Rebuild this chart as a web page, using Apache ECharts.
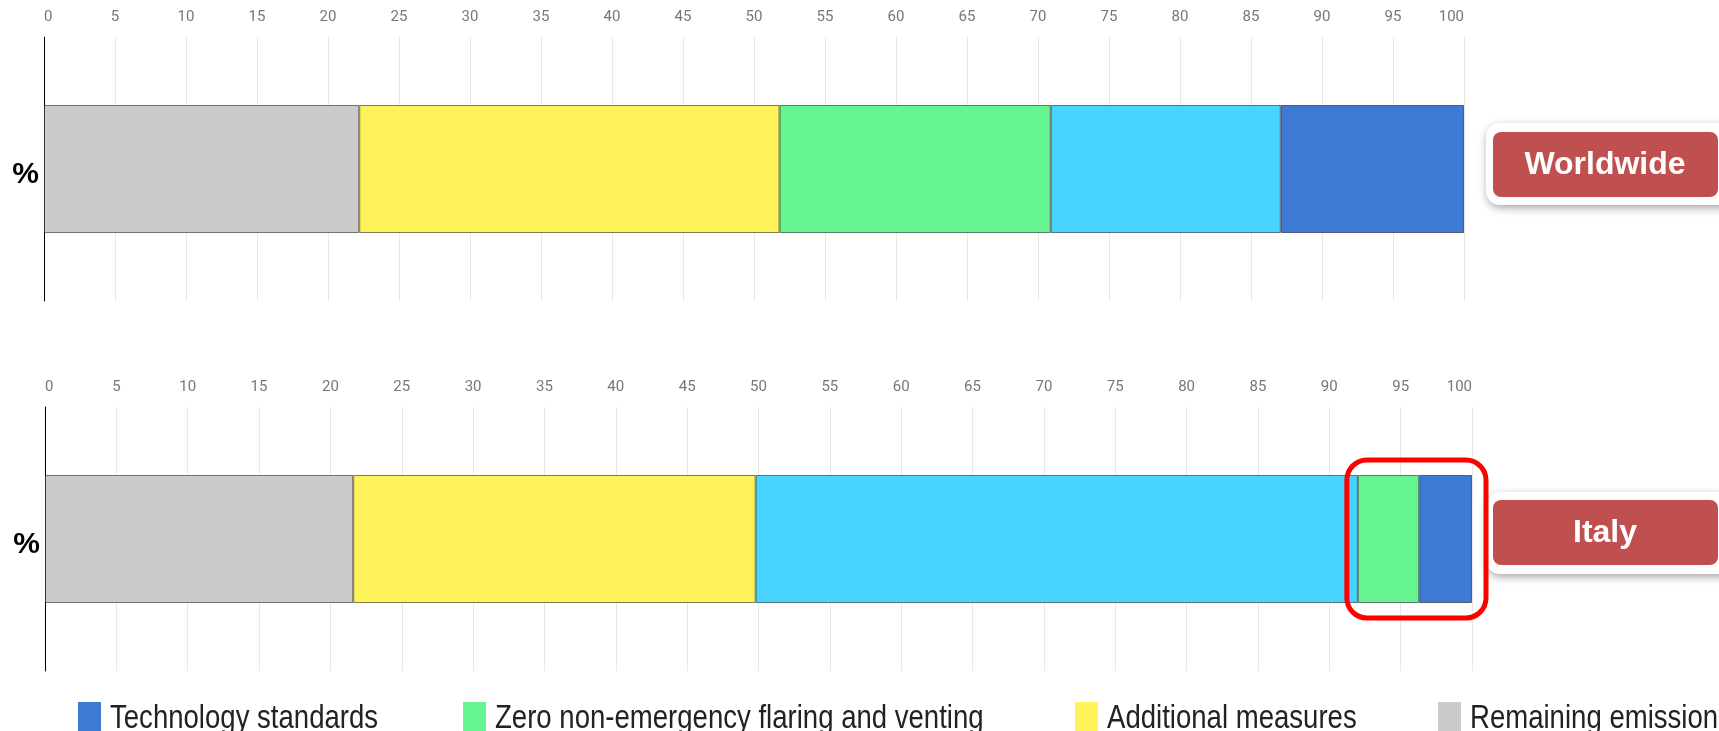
<!DOCTYPE html>
<html>
<head>
<meta charset="utf-8">
<script src="https://cdn.jsdelivr.net/npm/echarts@6/dist/echarts.min.js"></script>
<style>
html,body{margin:0;padding:0;background:#fff;}
#chart{width:1719px;height:731px;}
</style>
</head>
<body>
<div id="chart"></div>
<script>
// ---- data ----
const categories = ['%'];
const seriesNames = ['Remaining emissions', 'Additional measures', 'Zero non-emergency flaring and venting', 'Leak detection and repair', 'Technology standards'];
const seriesColors = ['#cbcbcb', '#fff35b', '#67f593', '#48d4ff', '#3e7ad3'];
const worldwideValues = [22.2, 29.6, 19.1, 16.2, 12.9];
const italyValues = [21.6, 28.2, 4.3, 42.2, 3.7];
const worldwideOrder = [0, 1, 2, 3, 4];
const italyOrder = [0, 1, 3, 2, 4];
const legendItems = ['Technology standards', 'Zero non-emergency flaring and venting', 'Additional measures', 'Remaining emissions'];
const legendColors = ['#3e7ad3', '#67f593', '#fff35b', '#cbcbcb'];
const regionLabels = ['Worldwide', 'Italy'];
const axisMin = 0, axisMax = 100, axisInterval = 5;

const chart = echarts.init(document.getElementById('chart'), null, {renderer: 'canvas'});

function xAxisFor(gridIndex) {
  return {
    gridIndex: gridIndex, type: 'value', position: 'top',
    min: axisMin, max: axisMax, interval: axisInterval,
    axisLine: {show: false}, axisTick: {show: false},
    axisLabel: {color: '#777', fontSize: 15, fontFamily: 'Roboto', margin: 12, alignMinLabel: 'left', alignMaxLabel: 'right'},
    splitLine: {show: true, lineStyle: {color: '#e8e8e8', width: 1}}
  };
}
function yAxisFor(gridIndex) {
  return {
    gridIndex: gridIndex, type: 'category', data: categories,
    axisLine: {show: true, lineStyle: {color: '#000', width: 1}},
    axisTick: {show: false},
    axisLabel: {
      margin: 5,
      formatter: function (v) { return '{p|' + v + '}'; },
      rich: {p: {color: '#000', fontSize: 30, fontWeight: 'bold', fontFamily: 'Liberation Sans', padding: [12, 0, 0, 0]}}
    }
  };
}
function buildSeries(values, order, idx) {
  return order.map(function (k) {
    return {
      type: 'bar', name: seriesNames[k], stack: 'total' + idx,
      xAxisIndex: idx, yAxisIndex: idx, barWidth: 128,
      data: [values[k]],
      itemStyle: {color: seriesColors[k], borderColor: 'rgba(0,0,0,0.5)', borderWidth: 1},
      emphasis: {disabled: true}
    };
  });
}

const option = {
  backgroundColor: '#fff',
  animation: false,
  grid: [
    {left: 44, right: 255, top: 37, height: 264},
    {left: 45, right: 247, top: 407, height: 264}
  ],
  xAxis: [xAxisFor(0), xAxisFor(1)],
  yAxis: [yAxisFor(0), yAxisFor(1)],
  series: buildSeries(worldwideValues, worldwideOrder, 0).concat(buildSeries(italyValues, italyOrder, 1))
};
chart.setOption(option);

function regionBox(label, outerY, innerY) {
  return [
    {type: 'rect', shape: {x: 1486, y: outerY, width: 250, height: 82, r: 14},
     style: {fill: '#fff', shadowBlur: 8, shadowOffsetX: 1, shadowOffsetY: 3, shadowColor: 'rgba(0,0,0,0.35)'}, z: 10},
    {type: 'rect', shape: {x: 1493, y: innerY, width: 225, height: 65, r: 8},
     style: {fill: '#c0504f'}, z: 11},
    {type: 'text', x: 1493 + 112, y: innerY + 33,
     style: {text: label, fill: '#fff', font: 'bold 32px "Liberation Sans", Arial', align: 'center', verticalAlign: 'middle'}, z: 12}
  ];
}

// legend drawn as graphic (condensed text)
const legendLefts = [78, 463, 1075, 1438];
const legendGraphics = [];
legendItems.forEach(function (name, i) {
  legendGraphics.push({type: 'rect', shape: {x: legendLefts[i], y: 702, width: 23, height: 35}, style: {fill: legendColors[i]}, z: 5});
  legendGraphics.push({type: 'text', x: legendLefts[i] + 32, y: 719, scaleX: 0.835,
    style: {text: name, fill: '#222', font: '33px "Liberation Sans", Arial', align: 'left', verticalAlign: 'middle'}, z: 5});
});

// highlight around the Italy zero-flaring + technology segments
const hlStart = italyValues[0] + italyValues[1] + italyValues[3];
const p0 = chart.convertToPixel({xAxisIndex: 1, yAxisIndex: 1}, [hlStart, categories[0]]);
const p1 = chart.convertToPixel({xAxisIndex: 1, yAxisIndex: 1}, [axisMax, categories[0]]);
const highlight = {
  type: 'rect',
  shape: {x: p0[0] - 11, y: p0[1] - 79, width: (p1[0] - p0[0]) + 25, height: 158, r: 20},
  style: {fill: 'none', stroke: '#ff0000', lineWidth: 5}, z: 20
};

chart.setOption({
  graphic: regionBox(regionLabels[0], 123, 132).concat(regionBox(regionLabels[1], 492, 500)).concat([highlight]).concat(legendGraphics)
});
</script>
</body>
</html>
